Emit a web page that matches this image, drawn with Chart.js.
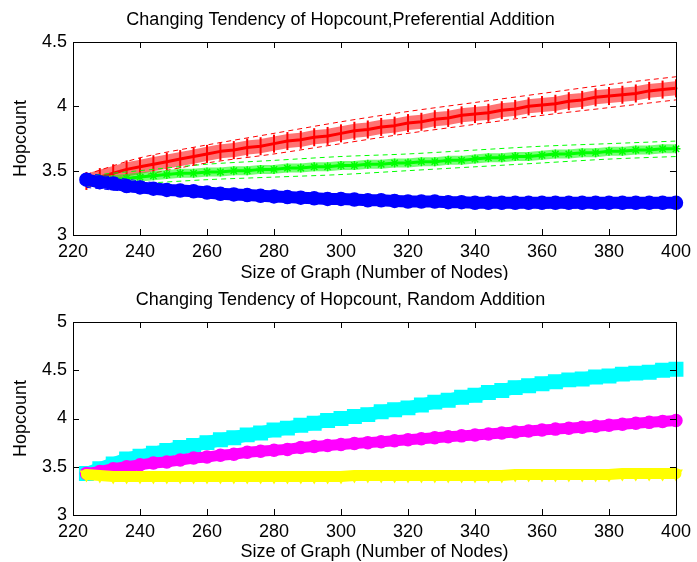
<!DOCTYPE html>
<html>
<head>
<meta charset="utf-8">
<script src="https://cdn.jsdelivr.net/npm/chart.js@4.4.0/dist/chart.umd.min.js"></script>
<style>
  body { margin: 0; background: #fff; }
  canvas { display: block; }
</style>
</head>
<body>
<canvas id="prefChart" width="697" height="280"></canvas>
<canvas id="randChart" width="697" height="282"></canvas>
<script>
// graph size (number of nodes) at each plotted sample
const nodes = [224, 228, 232, 236, 240, 244, 248, 252, 256, 260, 264, 268, 272, 276, 280, 284, 288, 292, 296, 300,
  304, 308, 312, 316, 320, 324, 328, 332, 336, 340, 344, 348, 352, 356, 360, 364, 368, 372, 376, 380,
  384, 388, 392, 396, 400];

// preferential addition - mean hopcount
const prefRed = [3.42, 3.45, 3.48, 3.51, 3.53, 3.55, 3.57, 3.59, 3.61, 3.63, 3.65, 3.66, 3.68, 3.69, 3.71, 3.73, 3.74, 3.76, 3.77, 3.79,
  3.81, 3.82, 3.84, 3.85, 3.87, 3.88, 3.90, 3.91, 3.93, 3.94, 3.95, 3.97, 3.98, 4.00, 4.01, 4.02, 4.04, 4.05, 4.07, 4.08,
  4.09, 4.10, 4.12, 4.13, 4.14];
const prefGreen = [3.42, 3.43, 3.43, 3.44, 3.45, 3.46, 3.47, 3.48, 3.48, 3.49, 3.49, 3.50, 3.50, 3.51, 3.51, 3.52, 3.52, 3.53, 3.53, 3.54,
  3.54, 3.55, 3.55, 3.56, 3.56, 3.57, 3.57, 3.58, 3.58, 3.59, 3.60, 3.60, 3.61, 3.61, 3.62, 3.63, 3.63, 3.64, 3.64, 3.65,
  3.65, 3.66, 3.66, 3.67, 3.67];
const prefBlue = [3.43, 3.41, 3.40, 3.38, 3.37, 3.36, 3.35, 3.345, 3.34, 3.33, 3.32, 3.315, 3.31, 3.305, 3.30, 3.295, 3.29, 3.285, 3.28, 3.28,
  3.275, 3.27, 3.27, 3.265, 3.26, 3.26, 3.26, 3.255, 3.255, 3.25, 3.25, 3.25, 3.25, 3.25, 3.25, 3.25, 3.25, 3.25, 3.25, 3.25,
  3.25, 3.25, 3.25, 3.25, 3.25];

// dashed confidence bands (sampled coarser)
const bandNodes = [224, 240, 260, 280, 300, 320, 340, 360, 380, 400];
const redUpper = [3.47, 3.60, 3.70, 3.79, 3.88, 3.96, 4.03, 4.10, 4.17, 4.23];
const redLower = [3.37, 3.46, 3.56, 3.63, 3.71, 3.79, 3.86, 3.93, 3.99, 4.05];
const greenUpper = [3.46, 3.50, 3.55, 3.58, 3.61, 3.63, 3.66, 3.69, 3.71, 3.73];
const greenLower = [3.38, 3.40, 3.43, 3.45, 3.47, 3.50, 3.53, 3.56, 3.59, 3.61];
const blueUpper = [3.48, 3.42, 3.36, 3.33, 3.31, 3.30, 3.29, 3.29, 3.29, 3.29];
const blueLower = [3.37, 3.33, 3.30, 3.27, 3.25, 3.23, 3.22, 3.21, 3.21, 3.21];

// random addition - mean hopcount
const randCyan = [3.43, 3.48, 3.53, 3.58, 3.61, 3.64, 3.67, 3.70, 3.72, 3.75, 3.78, 3.80, 3.83, 3.85, 3.88, 3.90, 3.93, 3.95, 3.98, 4.00,
  4.02, 4.04, 4.07, 4.09, 4.11, 4.14, 4.17, 4.19, 4.22, 4.24, 4.27, 4.29, 4.32, 4.34, 4.36, 4.38, 4.40, 4.41, 4.43, 4.44,
  4.46, 4.47, 4.48, 4.50, 4.51];
const randMagenta = [3.43, 3.45, 3.48, 3.50, 3.52, 3.54, 3.55, 3.57, 3.59, 3.60, 3.62, 3.63, 3.65, 3.66, 3.67, 3.68, 3.70, 3.71, 3.72, 3.73,
  3.74, 3.75, 3.76, 3.77, 3.78, 3.79, 3.80, 3.81, 3.82, 3.83, 3.84, 3.85, 3.86, 3.87, 3.88, 3.89, 3.90, 3.91, 3.92, 3.93,
  3.94, 3.95, 3.96, 3.97, 3.98];
const randYellow = [3.42, 3.41, 3.40, 3.40, 3.40, 3.40, 3.40, 3.40, 3.40, 3.40, 3.40, 3.40, 3.40, 3.40, 3.40, 3.40, 3.40, 3.40, 3.40, 3.40,
  3.41, 3.41, 3.41, 3.41, 3.41, 3.41, 3.41, 3.41, 3.41, 3.41, 3.41, 3.41, 3.42, 3.42, 3.42, 3.42, 3.42, 3.42, 3.42, 3.42,
  3.43, 3.43, 3.43, 3.43, 3.43];

const xTicks = [220, 240, 260, 280, 300, 320, 340, 360, 380, 400];

Chart.defaults.font.family = "'Liberation Sans', Arial, sans-serif";
Chart.defaults.font.size = 18;
Chart.defaults.color = '#000';

const pts = (xs, ys) => xs.map((x, i) => ({ x: x, y: ys[i] }));

// matlab style box with inward tick marks
const boxPlugin = {
  id: 'box',
  afterDatasetsDraw(chart) {
    const a = chart.chartArea, ctx = chart.ctx;
    const xs = chart.scales.x, ys = chart.scales.y;
    ctx.save();
    ctx.strokeStyle = '#000';
    ctx.lineWidth = 1;
    ctx.beginPath();
    ctx.rect(Math.round(a.left) + 0.5, Math.round(a.top) + 0.5, Math.round(a.right - a.left), Math.round(a.bottom - a.top));
    xs.ticks.forEach(t => {
      const px = Math.round(xs.getPixelForValue(t.value)) + 0.5;
      ctx.moveTo(px, a.bottom); ctx.lineTo(px, a.bottom - 6);
      ctx.moveTo(px, a.top); ctx.lineTo(px, a.top + 6);
    });
    ys.ticks.forEach(t => {
      const py = Math.round(ys.getPixelForValue(t.value)) + 0.5;
      ctx.moveTo(a.left, py); ctx.lineTo(a.left + 6, py);
      ctx.moveTo(a.right, py); ctx.lineTo(a.right - 6, py);
    });
    ctx.stroke();
    ctx.restore();
  }
};

function band(ys, color) {
  return {
    data: pts(bandNodes, ys), borderColor: color, borderWidth: 1, borderDash: [5, 4],
    pointRadius: 0, fill: false, tension: 0.3, clip: false
  };
}

// dense marker series: a wide stroke stands in for the overlapping markers
function series(ys, color, style, radius, width, extra) {
  return Object.assign({
    data: pts(nodes, ys), borderColor: color, backgroundColor: color,
    pointBorderColor: color, pointBackgroundColor: color, pointStyle: style, pointRadius: radius,
    pointBorderWidth: 1.5, borderWidth: width, borderJoinStyle: 'round', borderCapStyle: 'round',
    fill: false, tension: 0, clip: false
  }, extra || {});
}

function options(title, yMax, xTitleBottomPad, xAxisHeight) {
  return {
    responsive: false,
    animation: false,
    layout: { padding: { left: 0, right: 16, top: 0, bottom: 0 } },
    plugins: {
      legend: { display: false },
      tooltip: { enabled: false },
      title: {
        display: true, text: title, color: '#000',
        font: { size: 18, weight: 'normal' },
        padding: { top: 9, bottom: 11.4 }
      }
    },
    scales: {
      x: {
        type: 'linear', min: 220, max: 400,
        afterBuildTicks: s => { s.ticks = xTicks.map(v => ({ value: v })); },
        afterFit: s => { s.height = xAxisHeight; },
        grid: { display: false, drawTicks: false },
        border: { display: false },
        ticks: { padding: 6, autoSkip: false, maxRotation: 0, callback: v => String(v) },
        title: {
          display: true, text: 'Size of Graph (Number of Nodes)',
          font: { size: 18, lineHeight: 1 },
          padding: { top: 0, bottom: xTitleBottomPad }
        }
      },
      y: {
        min: 3, max: yMax,
        afterFit: s => { s.width = 73; },
        grid: { display: false, drawTicks: false },
        border: { display: false },
        ticks: { stepSize: 0.5, padding: 6, autoSkip: false, callback: v => String(v) },
        title: {
          display: true, text: 'Hopcount',
          font: { size: 18, lineHeight: 1 },
          padding: { top: 12, bottom: 0 }
        }
      }
    }
  };
}

new Chart(document.getElementById('prefChart'), {
  type: 'line',
  data: {
    datasets: [
      band(blueUpper, '#0000ff'),
      band(blueLower, '#0000ff'),
      series(prefBlue, '#0000ff', 'circle', 6.5, 12),
      band(greenUpper, '#00ff00'),
      band(greenLower, '#00ff00'),
      series(prefGreen, '#00ff00', 'star', 4.5, 3),
      series(prefGreen, 'rgba(0,255,0,0.55)', false, 0, 9, { borderCapStyle: 'butt' }),
      band(redUpper, '#ff0000'),
      band(redLower, '#ff0000'),
      series(prefRed, '#ff0000', 'line', 9, 3, { pointRotation: 90, pointBorderWidth: 2 }),
      series(prefRed, 'rgba(255,0,0,0.55)', false, 0, 14, { borderCapStyle: 'butt' })
    ]
  },
  options: options('Changing Tendency of Hopcount,Preferential Addition', 4.5, -2, 45),
  plugins: [boxPlugin]
});

new Chart(document.getElementById('randChart'), {
  type: 'line',
  data: {
    datasets: [
      series(randYellow, '#ffff00', 'triangle', 6.5, 11, { pointRotation: 180 }),
      series(randMagenta, '#ff00ff', 'circle', 6, 11),
      series(randCyan, '#00ffff', 'rect', 9.5, 13)
    ]
  },
  options: options('Changing Tendency of Hopcount, Random Addition', 5, 1, 47),
  plugins: [boxPlugin]
});
</script>
</body>
</html>
